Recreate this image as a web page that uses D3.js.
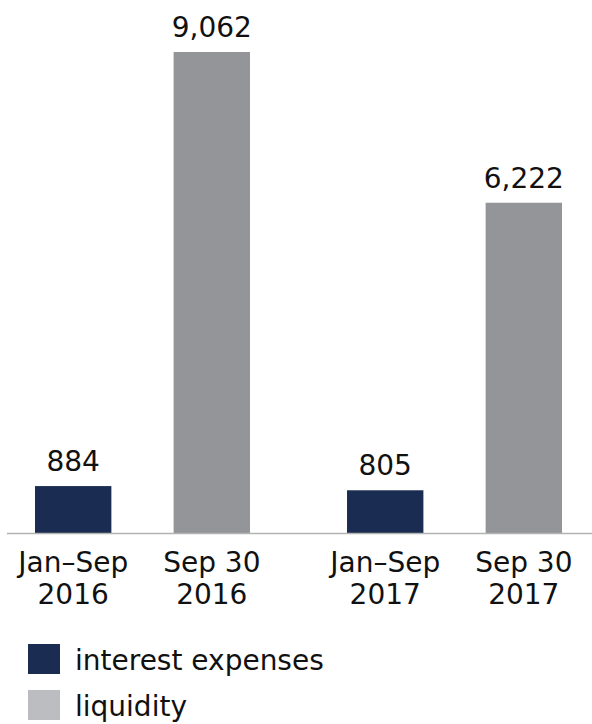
<!DOCTYPE html>
<html>
<head>
<meta charset="utf-8">
<script src="https://cdn.jsdelivr.net/npm/d3@7"></script>
<style>
  body { margin: 0; background: #fff; }
  text { font-family: "DejaVu Sans", Verdana, sans-serif; fill: #111; }
</style>
</head>
<body>
<svg id="chart" width="592" height="724"></svg>
<script>
// data
const periods = ["2016", "2017"]
const series = ["interest expenses", "liquidity"]
const interestExpenses = [884, 805]
const liquidity = [9062, 6222]
const tickLabels = {
    "interest expenses": period => ["Jan\u2013Sep", period],
    "liquidity": period => ["Sep 30", period]
}
const barColors = ["#1b2c52", "#939598"]
const legendColors = ["#1b2c52", "#bcbdc0"]

let svg = d3.select("#chart"),
    width = +svg.attr("width"),
    baseY = 533

let rows = []
periods.forEach((p, i) => {
    rows.push({period: p, series: series[0], value: interestExpenses[i]})
    rows.push({period: p, series: series[1], value: liquidity[i]})
})

let x0 = d3.scaleBand().domain(periods).range([35, 562]).paddingInner(0.311)
let x1 = d3.scaleBand().domain(series).range([0, x0.bandwidth()]).paddingInner(0.449)
let y = d3.scaleLinear().domain([0, d3.max(liquidity)]).range([baseY, 52])
let color = d3.scaleOrdinal().domain(series).range(barColors)

let bars = svg.append("g").selectAll("g").data(rows).enter().append("g")
    .attr("transform", d => "translate(" + (x0(d.period) + x1(d.series)) + ",0)")

bars.append("rect")
    .attr("x", 0)
    .attr("width", x1.bandwidth())
    .attr("y", d => y(d.value))
    .attr("height", d => baseY - y(d.value))
    .style("fill", d => color(d.series))

bars.append("text")
    .attr("x", x1.bandwidth() / 2)
    .attr("y", d => y(d.value) - 15)
    .attr("text-anchor", "middle")
    .style("font-size", "28px")
    .text(d => d3.format(",")(d.value))

// category labels under each bar
bars.append("text")
    .attr("text-anchor", "middle")
    .style("font-size", "28px")
    .selectAll("tspan").data(d => tickLabels[d.series](d.period)).enter().append("tspan")
    .attr("x", x1.bandwidth() / 2)
    .attr("y", (d, i) => 572 + i * 32)
    .text(d => d)

svg.append("line")
    .attr("x1", 7).attr("x2", width)
    .attr("y1", baseY + 0.5).attr("y2", baseY + 0.5)
    .style("stroke", "#b3b3b3")
    .style("stroke-width", 1.5)

let legend = svg.append("g").selectAll("g").data(series).enter().append("g")
    .attr("transform", (d, i) => "translate(28," + (644 + i * 46) + ")")

legend.append("rect")
    .attr("width", 32).attr("height", 30)
    .style("fill", (d, i) => legendColors[i])

legend.append("text")
    .attr("x", 47).attr("y", 26)
    .style("font-size", "28px")
    .text(d => d)
</script>
</body>
</html>
